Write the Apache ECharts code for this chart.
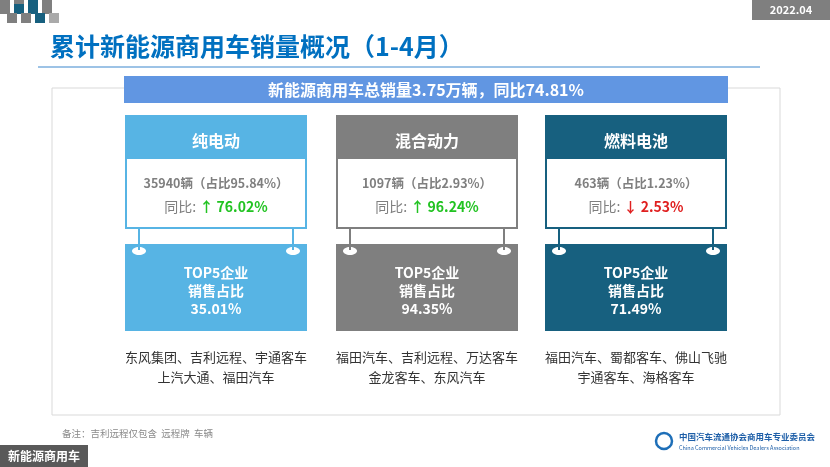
<!DOCTYPE html>
<html>
<head>
<meta charset="utf-8">
<script src="https://cdn.jsdelivr.net/npm/echarts@6/dist/echarts.min.js"></script>
<style>
  html, body { margin: 0; padding: 0; background: #fff; }
  #main { width: 830px; height: 467px; }
</style>
</head>
<body>
<div id="main"></div>
<script>
// 数据
const categories = ['纯电动', '混合动力', '燃料电池'];
const volumes = [35940, 1097, 463];
const shares = [95.84, 2.93, 1.23];
const yoy = [76.02, 96.24, -2.53];
const top5Share = [35.01, 94.35, 71.49];
const companies = [
  ['东风集团、吉利远程、宇通客车', '上汽大通、福田汽车'],
  ['福田汽车、吉利远程、万达客车', '金龙客车、东风汽车'],
  ['福田汽车、蜀都客车、佛山飞驰', '宇通客车、海格客车']
];
const totalText = '新能源商用车总销量3.75万辆，同比74.81%';
const colors = ['#57b4e4', '#7f7f7f', '#17607f'];

const FONT = '"Noto Sans CJK SC", "Microsoft YaHei", sans-serif';
const chart = echarts.init(document.getElementById('main'));

const els = [];
// 左上角方块
const sq = [[0, 0, '#7f7f7f'], [14, 0, '#7f7f7f'], [28, 0, '#17607f'], [42, 0, '#7f7f7f'],
  [0, 8, '#7f7f7f'], [14, 8, '#17607f'], [28, 8, '#17607f'], [42, 8, '#7f7f7f'],
  [7, 17, '#7f7f7f'], [21, 17, '#7f7f7f'], [35, 17, '#17607f'], [49, 17, '#aaaaaa']];
sq.forEach(s => els.push({ type: 'rect', shape: { x: s[0], y: s[1] - 4, width: 10, height: 10 }, style: { fill: s[2] } }));

// 日期
els.push({ type: 'rect', shape: { x: 752, y: 0, width: 78, height: 20 }, style: { fill: '#7f7f7f' } });
els.push({ type: 'text', x: 791, y: 10, style: { text: '2022.04', fill: '#fff', font: 'bold 11px ' + FONT, align: 'center', verticalAlign: 'middle' } });

// 标题
els.push({ type: 'text', x: 50, y: 46, style: { text: '累计新能源商用车销量概况（1-4月）', fill: '#0070c0', font: 'bold 25px ' + FONT, verticalAlign: 'middle' } });
els.push({ type: 'line', shape: { x1: 38, y1: 67, x2: 760, y2: 67 }, style: { stroke: '#9dc3e6', lineWidth: 2 } });

// 外框
els.push({ type: 'rect', shape: { x: 52, y: 88, width: 728, height: 327 }, style: { fill: 'none', stroke: '#d9d9d9', lineWidth: 1 } });
els.push({ type: 'rect', shape: { x: 124, y: 76, width: 604, height: 27 }, style: { fill: '#6196e2' } });
els.push({ type: 'text', x: 426, y: 90, style: { text: totalText, fill: '#fff', font: 'bold 16px ' + FONT, align: 'center', verticalAlign: 'middle' } });

const xs = [125, 336, 545];
const W = 182;
categories.forEach((c, i) => {
  const x = xs[i], col = colors[i], cx = x + W / 2;
  els.push({ type: 'rect', shape: { x: x, y: 115, width: W, height: 114 }, style: { fill: col } });
  els.push({ type: 'rect', shape: { x: x + 2, y: 159, width: W - 4, height: 68 }, style: { fill: '#fff' } });
  els.push({ type: 'text', x: cx, y: 141, style: { text: c, fill: '#fff', font: 'bold 16px ' + FONT, align: 'center', verticalAlign: 'middle' } });
  els.push({ type: 'text', x: cx, y: 183, style: { text: volumes[i] + '辆（占比' + shares[i].toFixed(2) + '%）', fill: '#7f7f7f', font: 'bold 12.5px ' + FONT, align: 'center', verticalAlign: 'middle' } });
  const up = yoy[i] >= 0;
  els.push({ type: 'text', x: cx, y: 207, style: {
    text: '{a|同比: }{b|' + (up ? '↑' : '↓') + ' ' + Math.abs(yoy[i]).toFixed(2) + '%}',
    align: 'center', verticalAlign: 'middle',
    rich: {
      a: { fill: '#7f7f7f', font: '14px ' + FONT },
      b: { fill: up ? '#22c322' : '#e02020', font: 'bold 14px ' + FONT }
    }
  } });
  // 连接
  [x + 14, x + W - 14].forEach(px => {
    els.push({ type: 'rect', shape: { x: px - 1, y: 229, width: 2, height: 16 }, style: { fill: col } });
  });
  els.push({ type: 'rect', shape: { x: x, y: 244, width: W, height: 87 }, style: { fill: col } });
  [x + 14, x + W - 14].forEach(px => {
    els.push({ type: 'ellipse', shape: { cx: px, cy: 251, rx: 7, ry: 4 }, style: { fill: '#fff' } });
    els.push({ type: 'rect', shape: { x: px - 1, y: 244, width: 2, height: 6 }, style: { fill: col } });
  });
  els.push({ type: 'text', x: cx, y: 291, style: { text: 'TOP5企业\n销售占比\n' + top5Share[i].toFixed(2) + '%', fill: '#fff', font: 'bold 14px ' + FONT, lineHeight: 18, align: 'center', verticalAlign: 'middle' } });
  els.push({ type: 'text', x: cx, y: 367, style: { text: companies[i].join('\n'), fill: '#333', font: '13px ' + FONT, lineHeight: 20, align: 'center', verticalAlign: 'middle' } });
});

// 备注与底部
els.push({ type: 'text', x: 62, y: 433, style: { text: '备注：吉利远程仅包含  远程牌  车辆', fill: '#8a8a8a', font: '9.5px ' + FONT, verticalAlign: 'middle' } });
els.push({ type: 'rect', shape: { x: 0, y: 445, width: 88, height: 22 }, style: { fill: '#595959' } });
els.push({ type: 'text', x: 44, y: 456, style: { text: '新能源商用车', fill: '#fff', font: 'bold 12px ' + FONT, align: 'center', verticalAlign: 'middle' } });
els.push({ type: 'circle', shape: { cx: 664, cy: 441, r: 8 }, style: { fill: 'none', stroke: '#1e6fb8', lineWidth: 2.5 } });
els.push({ type: 'text', x: 679, y: 437, style: { text: '中国汽车流通协会商用车专业委员会', fill: '#1e5fa8', font: 'bold 8.5px ' + FONT, verticalAlign: 'middle' } });
els.push({ type: 'text', x: 679, y: 448, style: { text: 'China Commercial Vehicles Dealers Association', fill: '#1e5fa8', font: '5.5px ' + FONT, verticalAlign: 'middle' } });

chart.setOption({ animation: false, graphic: { elements: els } });
</script>
</body>
</html>
